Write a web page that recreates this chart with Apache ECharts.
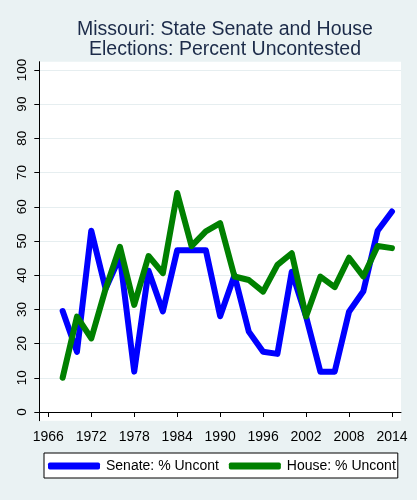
<!DOCTYPE html>
<html>
<head>
<meta charset="utf-8">
<script src="https://cdn.jsdelivr.net/npm/echarts@6/dist/echarts.min.js"></script>
<style>
  html, body { margin: 0; padding: 0; background: #eaf2f3; }
  #main { width: 417px; height: 500px; }
</style>
</head>
<body>
<div id="main"></div>
<script>
var years = [1968,1970,1972,1974,1976,1978,1980,1982,1984,1986,1988,1990,
             1992,1994,1996,1998,2000,2002,2004,2006,2008,2010,2012,2014];
var senate = [29.5,17.6,53,36,45.4,11.8,41.3,29.4,47.3,47.3,47.3,28,
              40,23.5,17.6,17,41,27.9,11.8,11.8,29.3,35.3,53,58.6];
var house = [10,27.9,21.5,36,48.3,31.3,45.6,40.6,64,48.5,52.8,55.2,
             39.6,38.6,35.2,43,46.4,27.9,39.6,36.5,45.1,39.6,48.5,47.9];
var xTicks = [1966,1972,1978,1984,1990,1996,2002,2008,2014];
var yTicks = [0,10,20,30,40,50,60,70,80,90,100];
var yGrid = [10,20,30,40,50,60,70,80,90];

function pairs(xs, ys){
	var out = [];
	for (var i = 0; i < xs.length; i++) out.push([xs[i], ys[i]]);
	return out;
}

var myChart = echarts.init(document.getElementById('main'));
var option = {
	backgroundColor: '#eaf2f3',
	animation: false,
	title: {
		text: 'Missouri: State Senate and House\nElections: Percent Uncontested',
		left: 220,
		textAlign: 'center',
		top: 15,
		textStyle: {
			fontFamily: 'Liberation Sans, Arial, sans-serif',
			fontSize: 19.5,
			fontWeight: 'normal',
			lineHeight: 20,
			color: '#1c2b49'
		}
	},
	legend: {
		left: 44,
		top: 453,
		padding: [6, 2, 5, 4],
		backgroundColor: '#fff',
		borderColor: '#000',
		borderWidth: 1,
		borderRadius: 0,
		itemWidth: 52,
		itemHeight: 7,
		itemGap: 10,
		icon: 'roundRect',
		textStyle: {
			fontFamily: 'Liberation Sans, Arial, sans-serif',
			fontSize: 14,
			color: '#000',
			padding: [0, 0, 0, 1]
		},
		data: ['Senate: % Uncont', 'House: % Uncont']
	},
	grid: {
		left: 39.3,
		right: 16,
		top: 61.7,
		bottom: 79.3,
		show: true,
		backgroundColor: '#fff',
		borderWidth: 0
	},
	xAxis: {
		type: 'value',
		min: 1964.74,
		max: 2015.26,
		axisLine: { lineStyle: { color: '#000', width: 1 } },
		axisTick: { customValues: xTicks, length: 5, lineStyle: { color: '#000' } },
		axisLabel: {
			customValues: xTicks,
			formatter: function (v) { return String(v); },
			margin: 9,
			color: '#000',
			fontSize: 14,
			fontFamily: 'Liberation Sans, Arial, sans-serif'
		},
		splitLine: { show: false }
	},
	yAxis: {
		type: 'value',
		min: -2.54,
		max: 102.4,
		axisLine: { show: true, lineStyle: { color: '#000', width: 1 } },
		axisTick: { show: true, customValues: yTicks, length: 5, lineStyle: { color: '#000' } },
		axisLabel: {
			customValues: yTicks,
			rotate: 90,
			margin: 10,
			color: '#000',
			fontSize: 13.5,
			fontFamily: 'Liberation Sans, Arial, sans-serif'
		},
		splitLine: { show: true, customValues: yGrid, lineStyle: { color: '#e6eef0', width: 1 } }
	},
	series: [
		{
			name: 'Senate: % Uncont',
			type: 'line',
			data: pairs(years, senate),
			symbol: 'none',
			color: '#0000ff',
			lineStyle: { width: 6, color: '#0000ff', join: 'round', cap: 'round' }
		},
		{
			name: 'House: % Uncont',
			type: 'line',
			data: pairs(years, house),
			symbol: 'none',
			color: '#008000',
			lineStyle: { width: 6, color: '#008000', join: 'round', cap: 'round' }
		}
	]
};
myChart.setOption(option);
</script>
</body>
</html>
